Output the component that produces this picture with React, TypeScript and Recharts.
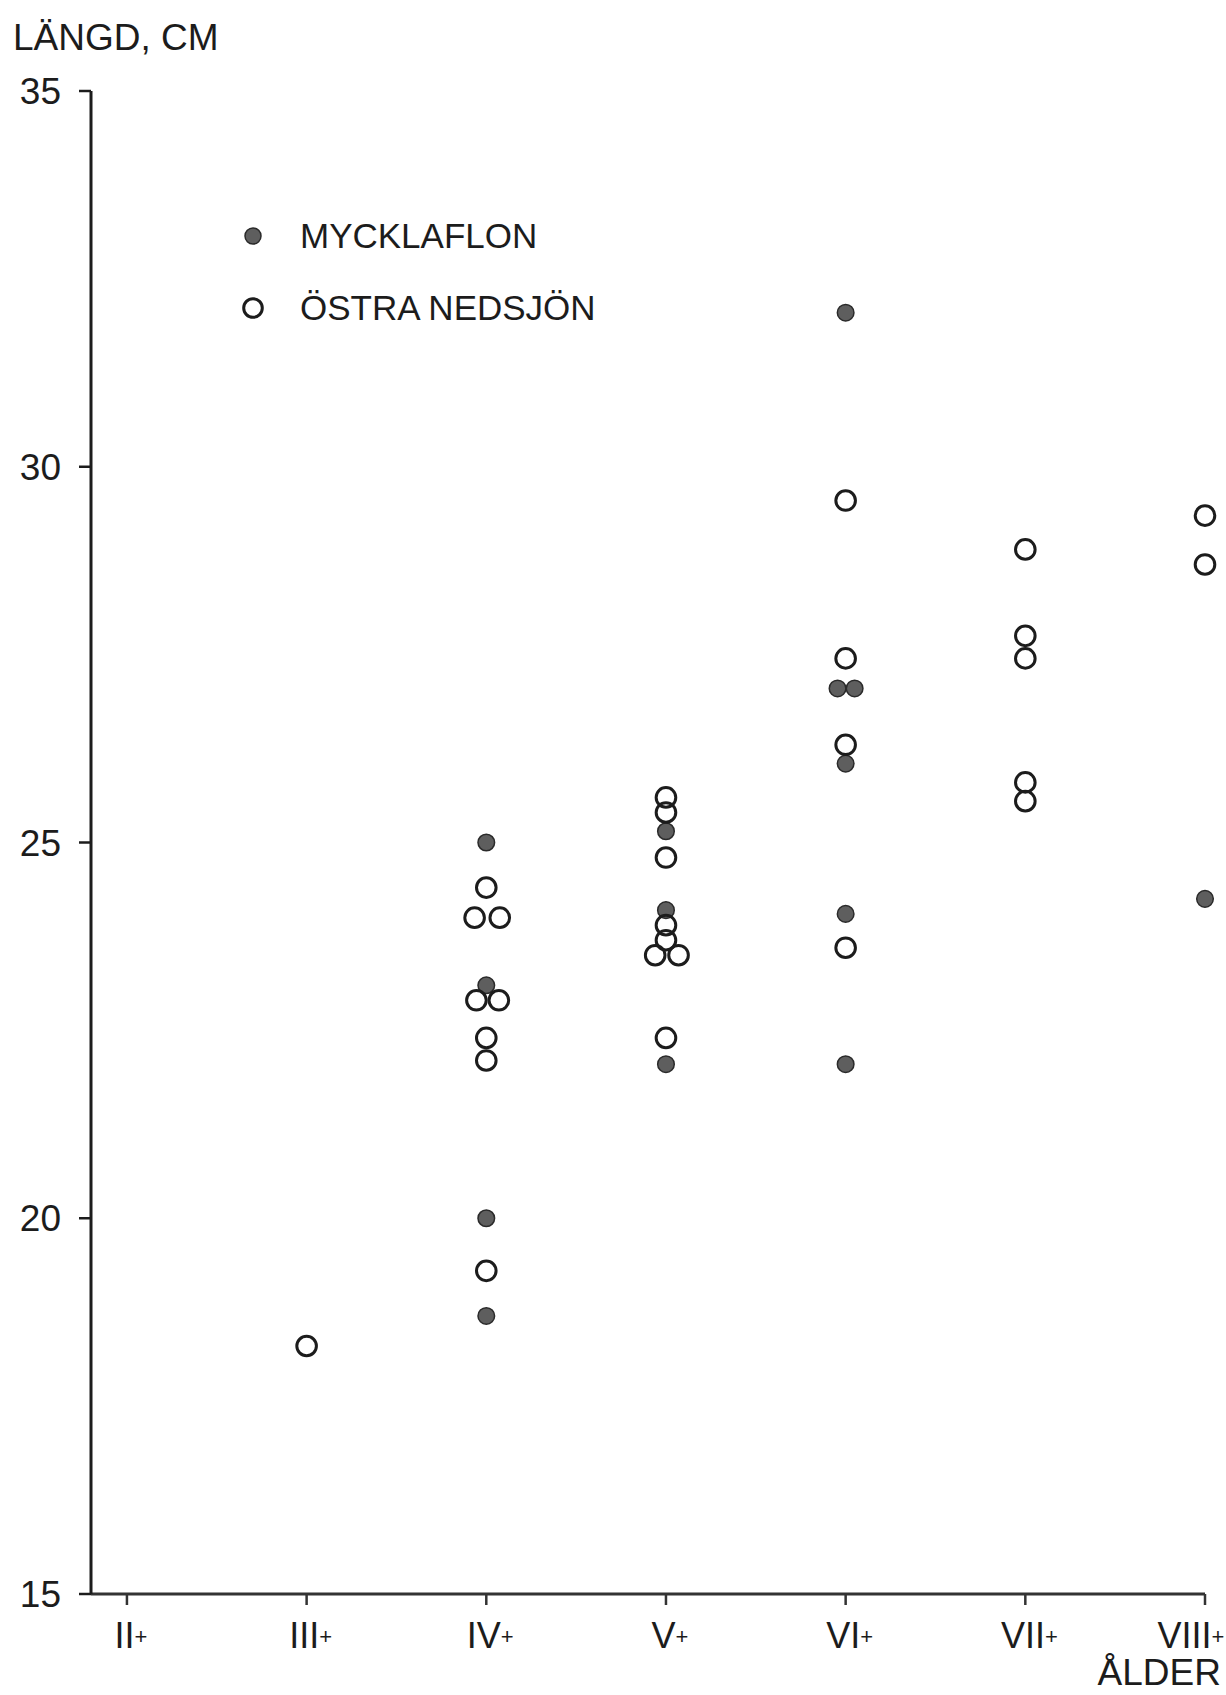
import React from "react";
import { ScatterChart, Scatter, XAxis, YAxis, Legend } from "recharts";

const ageTicks = [2, 3, 4, 5, 6, 7, 8];
const ageLabels = ["II+", "III+", "IV+", "V+", "VI+", "VII+", "VIII+"];
const lengthTicks = [15, 20, 25, 30, 35];

// Mycklaflon, filled dots (age class, length in cm)
const mycklaflonAge = [4, 4, 4, 4, 5, 5, 5, 6, 5.955, 6.05, 6, 6, 6, 8];
const mycklaflonLength = [25.0, 23.1, 20.0, 18.7, 25.15, 24.1, 22.05, 32.05, 27.05, 27.05, 26.05, 24.05, 22.05, 24.25];

// Östra Nedsjön, open rings
const ostraAge = [3, 4, 3.935, 4.075, 3.945, 4.07, 4, 4, 4, 5, 5, 5, 5, 5, 4.94, 5.07, 5, 6, 6, 6, 6, 7, 7, 7, 7, 7, 8, 8];
const ostraLength = [18.3, 24.4, 24.0, 24.0, 22.9, 22.9, 22.4, 22.1, 19.3, 25.6, 25.4, 24.8, 23.9, 23.7, 23.5, 23.5, 22.4, 29.55, 27.45, 26.3, 23.6, 28.9, 27.75, 27.45, 25.8, 25.55, 29.35, 28.7];

const FONT = '"Liberation Sans", Arial, sans-serif';
const INK = "#1c1c1c";

const mycklaflon = mycklaflonAge.map((age, i) => ({ age, length: mycklaflonLength[i] }));
const ostra = ostraAge.map((age, i) => ({ age, length: ostraLength[i] }));

const FilledDot = (props: any) => (
  <circle cx={props.cx} cy={props.cy} r={8.3} fill="#5e5e5e" stroke="#2a2a2a" strokeWidth={1.5} />
);

const OpenRing = (props: any) => (
  <circle cx={props.cx} cy={props.cy} r={9.8} fill="none" stroke={INK} strokeWidth={3} />
);

// roman numeral with a small plus sign
const AgeTick = (props: any) => {
  const { x, y, payload, index } = props;
  const label = ageLabels[ageTicks.indexOf(payload.value)] ?? "";
  const last = index === ageTicks.length - 1;
  return (
    <text x={x + (last ? -14 : 4)} y={y} dy="0.71em" textAnchor="middle" fill={INK} fontSize={36} fontFamily={FONT}>
      {label.replace("+", "")}
      <tspan fontSize={22} dy={-4}>+</tspan>
    </text>
  );
};

const LegendBox = () => (
  <div style={{ fontFamily: FONT, fontSize: 35, color: INK }}>
    <div style={{ display: "flex", alignItems: "center", height: 72 }}>
      <svg width={24} height={24} style={{ marginRight: 35 }}>
        <circle cx={12} cy={12} r={8} fill="#5e5e5e" stroke="#2a2a2a" strokeWidth={1.5} />
      </svg>
      <span>MYCKLAFLON</span>
    </div>
    <div style={{ display: "flex", alignItems: "center", height: 72 }}>
      <svg width={24} height={24} style={{ marginRight: 35 }}>
        <circle cx={12} cy={12} r={9.3} fill="none" stroke={INK} strokeWidth={3} />
      </svg>
      <span>ÖSTRA NEDSJÖN</span>
    </div>
  </div>
);

export default function App() {
  return (
    <div style={{ position: "absolute", left: 0, top: 0, width: 1226, height: 1695, background: "#fff" }}>
      <ScatterChart width={1226} height={1695} margin={{ top: 91, right: 21, bottom: 0, left: 0 }}>
        <XAxis
          type="number"
          dataKey="age"
          domain={[1.8, 8]}
          ticks={ageTicks}
          height={101}
          tickSize={11}
          tickMargin={17}
          axisLine={{ stroke: "#333", strokeWidth: 3 }}
          tickLine={{ stroke: "#333", strokeWidth: 2.5 }}
          tick={<AgeTick />}
          label={{
            content: (p: any) => {
              const vb = p.viewBox;
              return (
                <text x={vb.x + vb.width + 16} y={vb.y + vb.height - 10} textAnchor="end" fill={INK} fontSize={37} fontFamily={FONT}>
                  ÅLDER
                </text>
              );
            },
          }}
        />
        <YAxis
          type="number"
          dataKey="length"
          domain={[15, 35]}
          ticks={lengthTicks}
          width={91}
          tickSize={12}
          tickMargin={18}
          axisLine={{ stroke: INK, strokeWidth: 3 }}
          tickLine={{ stroke: INK, strokeWidth: 2.5 }}
          tick={{ fill: INK, fontSize: 37, fontFamily: FONT }}
          label={{
            content: (p: any) => {
              const vb = p.viewBox;
              return (
                <text x={vb.x + 13} y={vb.y - 41} fill={INK} fontSize={37} fontFamily={FONT}>
                  LÄNGD, CM
                </text>
              );
            },
          }}
        />
        <Legend
          layout="horizontal"
          verticalAlign="middle"
          align="center"
          content={<LegendBox />}
          wrapperStyle={{ left: 241, top: 200, width: "auto", height: "auto" }}
        />
        <Scatter name="MYCKLAFLON" data={mycklaflon} shape={FilledDot} isAnimationActive={false} />
        <Scatter name="ÖSTRA NEDSJÖN" data={ostra} shape={OpenRing} isAnimationActive={false} />
      </ScatterChart>
    </div>
  );
}
